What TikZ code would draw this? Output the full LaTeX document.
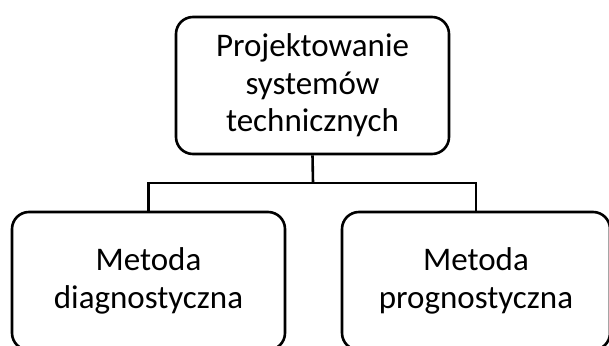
\documentclass[tikz,border=0pt]{standalone}
\usepackage{fontspec}
\setmainfont{Carlito}
\begin{document}
\begin{tikzpicture}[x=1pt,y=-1pt,
  box/.style={draw=black, line width=2.6pt, rounded corners=17pt, align=center,
    inner sep=0pt, font=\fontsize{33}{37.5}\selectfont},
  conn/.style={draw=black, line width=2.6pt}]
\useasboundingbox (0,0) rectangle (609,345);
\node[box, minimum width=273pt, minimum height=137pt] (top) at (312.5,85.5)
  {Projektowanie\\systemów\\technicznych};
\node[box, minimum width=273pt, minimum height=138pt] (left) at (148.5,281)
  {Metoda\\diagnostyczna};
\node[box, minimum width=268pt, minimum height=138pt] (right) at (476,281)
  {Metoda\\prognostyczna};
\coordinate (hub) at (313,183);
\draw[conn] (top.south) -- (hub);
\draw[conn] (left.north) |- (hub) -| (right.north);
\end{tikzpicture}
\end{document}
